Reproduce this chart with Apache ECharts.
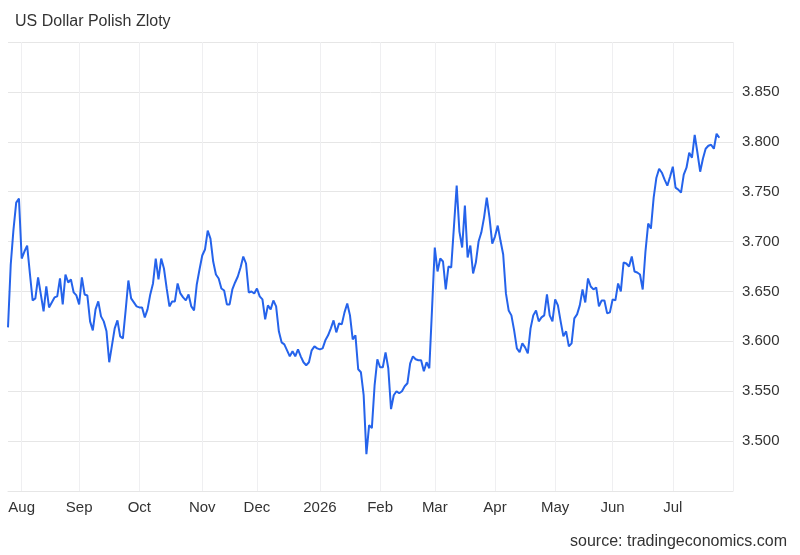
<!DOCTYPE html>
<html>
<head>
<meta charset="utf-8">
<script src="https://cdn.jsdelivr.net/npm/echarts@6/dist/echarts.min.js"></script>
<style>
html,body{margin:0;padding:0;background:#fff;}
#chart{width:800px;height:555px;}
</style>
</head>
<body>
<div id="chart"></div>
<script>
// ---- data ----
const titleText = 'US Dollar Polish Zloty';
const sourceText = 'source: tradingeconomics.com';
const firstDay = '2025-07-25';   // first trading day on the axis
const lastDay = '2026-07-31';    // axis runs to the end of July
const monthNames = ['Jan','Feb','Mar','Apr','May','Jun','Jul','Aug','Sep','Oct','Nov','Dec'];
const yTicks = { min: 3.45, max: 3.90, step: 0.05 };

// daily closes (weekdays)
const rateJulOct = [
  3.614, 3.677, 3.712, 3.739, 3.743, 3.683, 3.690, 3.696, 3.668, 3.641,
  3.643, 3.664, 3.647, 3.630, 3.655, 3.634, 3.639, 3.644, 3.645, 3.663,
  3.637, 3.667, 3.659, 3.662, 3.649, 3.646, 3.637, 3.664, 3.647, 3.646,
  3.620, 3.611, 3.632, 3.640, 3.625, 3.620, 3.610, 3.579, 3.596, 3.613,
  3.621, 3.605, 3.603, 3.631, 3.661, 3.643, 3.639, 3.635, 3.634, 3.634,
  3.624, 3.632, 3.647, 3.658, 3.683, 3.662, 3.683, 3.673, 3.653, 3.635,
  3.640, 3.640, 3.658, 3.648, 3.644, 3.641, 3.647, 3.635
];
const rateOctJan = [
  3.631, 3.657, 3.672, 3.686, 3.692, 3.711, 3.703, 3.680, 3.667, 3.663,
  3.653, 3.651, 3.637, 3.637, 3.652, 3.659, 3.665, 3.674, 3.685, 3.678,
  3.649, 3.650, 3.648, 3.653, 3.645, 3.642, 3.622, 3.636, 3.632, 3.641,
  3.635, 3.610, 3.599, 3.597, 3.591, 3.585, 3.590, 3.585, 3.592, 3.585,
  3.579, 3.576, 3.579, 3.591, 3.595, 3.593, 3.592, 3.593, 3.601, 3.606,
  3.613, 3.621, 3.609, 3.618, 3.617, 3.629, 3.638, 3.626, 3.602, 3.606,
  3.572, 3.569, 3.546, 3.487, 3.516, 3.513, 3.556
];
const rateFebApr = [
  3.582, 3.574, 3.574, 3.589, 3.573, 3.532, 3.546, 3.550, 3.548, 3.550,
  3.555, 3.558, 3.578, 3.585, 3.582, 3.581, 3.581, 3.570, 3.579, 3.573,
  3.633, 3.694, 3.670, 3.683, 3.680, 3.652, 3.675, 3.674, 3.715, 3.756,
  3.710, 3.694, 3.736, 3.684, 3.696, 3.668, 3.679, 3.700, 3.709, 3.724,
  3.744, 3.724, 3.698, 3.705, 3.716, 3.701, 3.687, 3.648, 3.631, 3.626,
  3.611, 3.593, 3.589, 3.598, 3.594, 3.588, 3.613, 3.626, 3.631, 3.620,
  3.624, 3.626, 3.647, 3.626, 3.620
];
const rateMayJul = [
  3.642, 3.636, 3.620, 3.605, 3.610, 3.595, 3.598, 3.623, 3.627, 3.636,
  3.652, 3.639, 3.663, 3.655, 3.652, 3.654, 3.635, 3.641, 3.641, 3.628,
  3.629, 3.642, 3.641, 3.658, 3.650, 3.679, 3.678, 3.675, 3.685, 3.670,
  3.669, 3.667, 3.652, 3.690, 3.718, 3.713, 3.744, 3.764, 3.773, 3.769,
  3.762, 3.756, 3.765, 3.775, 3.754, 3.752, 3.749, 3.767, 3.774, 3.789,
  3.784, 3.807, 3.789, 3.770, 3.783, 3.793, 3.796, 3.797, 3.793, 3.808,
  3.804
];
const rates = [].concat(rateJulOct, rateOctJan, rateFebApr, rateMayJul);

// ---- categories: weekdays ----
function pad(n){ return (n < 10 ? '0' : '') + n; }
const dates = [];
{
  const d = new Date(firstDay + 'T00:00:00Z');
  const end = new Date(lastDay + 'T00:00:00Z');
  while (d <= end) {
    const wd = d.getUTCDay();
    if (wd !== 0 && wd !== 6) {
      dates.push(d.getUTCFullYear() + '-' + pad(d.getUTCMonth() + 1) + '-' + pad(d.getUTCDate()));
    }
    d.setUTCDate(d.getUTCDate() + 1);
  }
}
const monthStart = new Set();
for (let i = 1; i < dates.length; i++) {
  if (dates[i].slice(5, 7) !== dates[i - 1].slice(5, 7)) monthStart.add(i);
}
const lastIndex = dates.length - 1;

const FONT = '"Liberation Sans", Arial, Helvetica, sans-serif';

const chart = echarts.init(document.getElementById('chart'), null, { renderer: 'canvas' });
chart.setOption({
  animation: false,
  backgroundColor: '#ffffff',
  textStyle: { fontFamily: FONT },
  title: [
    {
      text: titleText, left: 15, top: 14, padding: 0,
      textStyle: { fontSize: 16, fontWeight: 'normal', color: '#333333', fontFamily: FONT }
    },
    {
      text: sourceText, right: 13, top: 534, padding: 0,
      textStyle: { fontSize: 16, fontWeight: 'normal', color: '#333333', fontFamily: FONT }
    }
  ],
  grid: { left: 8, right: 67, top: 42, bottom: 64, containLabel: false, outerBoundsMode: 'none' },
  xAxis: {
    type: 'category',
    data: dates,
    boundaryGap: false,
    axisLine: { show: true, lineStyle: { color: '#e6e6e6', width: 1 } },
    axisTick: { show: false },
    axisLabel: {
      interval: (idx) => monthStart.has(idx),
      formatter: (val) => {
        const m = parseInt(val.slice(5, 7), 10) - 1;
        return m === 0 ? val.slice(0, 4) : monthNames[m];
      },
      color: '#333333', fontSize: 15, margin: 9, fontFamily: FONT,
      hideOverlap: false
    },
    splitLine: {
      show: true,
      interval: (idx) => monthStart.has(idx) || idx === lastIndex,
      lineStyle: { color: '#efeff1', width: 1 }
    }
  },
  yAxis: {
    type: 'value',
    position: 'right',
    min: yTicks.min,
    max: yTicks.max,
    interval: yTicks.step,
    scale: true,
    axisLine: { show: false },
    axisTick: { show: false },
    axisLabel: {
      showMinLabel: false,
      showMaxLabel: false,
      formatter: (v) => v.toFixed(3),
      color: '#333333', fontSize: 15, margin: 9, fontFamily: FONT,
      padding: [3, 0, 0, 0]
    },
    splitLine: { show: true, lineStyle: { color: '#e6e6e6', width: 1 } }
  },
  series: [{
    type: 'line',
    data: rates,
    symbol: 'none',
    showSymbol: false,
    smooth: false,
    lineStyle: { color: '#2563eb', width: 2 },
    itemStyle: { color: '#2563eb' }
  }]
});
</script>
</body>
</html>
